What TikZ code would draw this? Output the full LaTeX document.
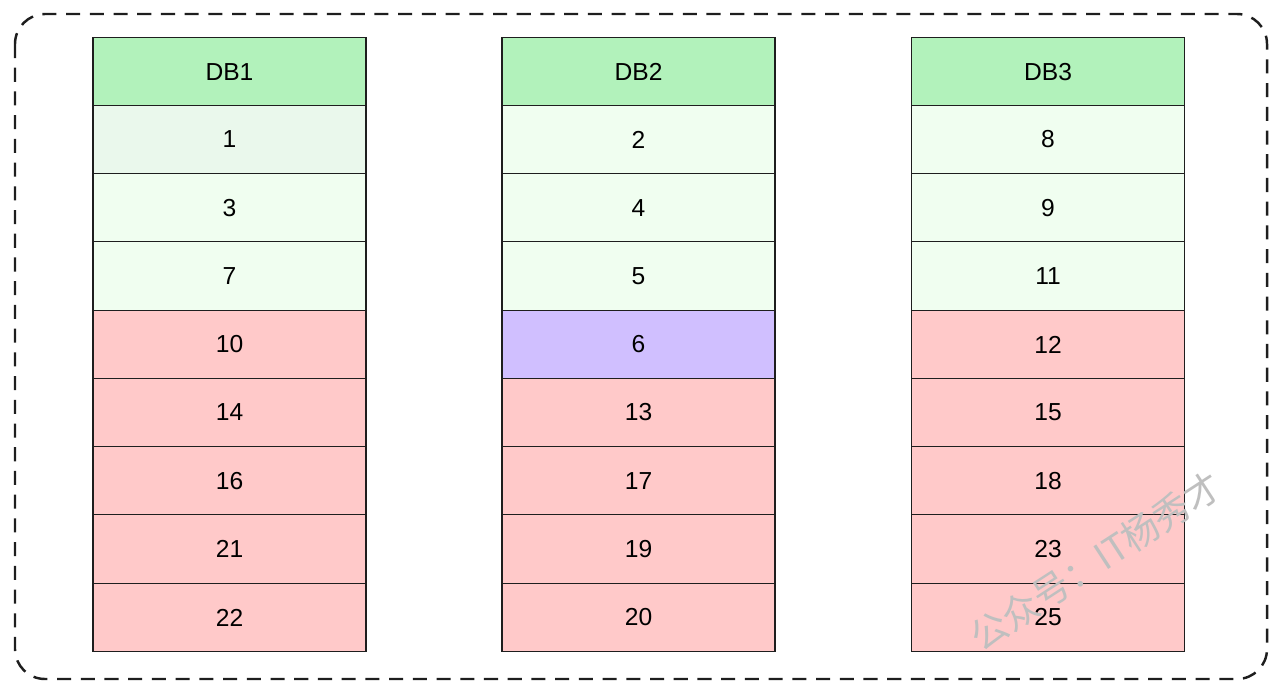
\documentclass[tikz,border=0pt]{standalone}
\usepackage{fontspec}
\setmainfont{Liberation Sans}
\newfontfamily\cjk{Noto Sans CJK SC}
\definecolor{headgreen}{HTML}{B2F2BB}
\definecolor{palegreen}{HTML}{EAF8EC}
\definecolor{rowgreen}{HTML}{F0FEF0}
\definecolor{rowred}{HTML}{FFC9C9}
\definecolor{rowviolet}{HTML}{D0BFFF}
\definecolor{inkdark}{HTML}{1E1E1E}
\begin{document}
\begin{tikzpicture}
        [x=0.02cm,y=-0.02cm,every node/.style={rectangle,draw=inkdark,line width=0.8pt,minimum width=5.46cm,minimum height=1.37cm,font=\fontsize{14}{16}\selectfont}]
        \useasboundingbox (0,0) rectangle (1280,693);
        \draw[inkdark, line width=1.4pt, dash pattern=on 8pt off 5.5pt, rounded corners=0.6cm] (15,14) rectangle (1267,679);

        % DB1
        \node[fill=headgreen] (H1) at   (229.5,72)      {DB1};
        \node[fill=palegreen] (A1) at   (229.5,139.5)   {1};
        \node[fill=rowgreen]  (A3) at   (229.5,208)     {3};
        \node[fill=rowgreen]  (A7) at   (229.5,276)     {7};
        \node[fill=rowred]    (A10) at  (229.5,344.5)   {10};
        \node[fill=rowred]    (A14) at  (229.5,412.5)   {14};
        \node[fill=rowred]    (A16) at  (229.5,481)     {16};
        \node[fill=rowred]    (A21) at  (229.5,549)     {21};
        \node[fill=rowred]    (A22) at  (229.5,617.5)   {22};

        % DB2
        \node[fill=headgreen] (H2) at   (638.5,72)      {DB2};
        \node[fill=rowgreen]  (B2) at   (638.5,139.5)   {2};
        \node[fill=rowgreen]  (B4) at   (638.5,208)     {4};
        \node[fill=rowgreen]  (B5) at   (638.5,276)     {5};
        \node[fill=rowviolet] (B6) at   (638.5,344.5)   {6};
        \node[fill=rowred]    (B13) at  (638.5,412.5)   {13};
        \node[fill=rowred]    (B17) at  (638.5,481)     {17};
        \node[fill=rowred]    (B19) at  (638.5,549)     {19};
        \node[fill=rowred]    (B20) at  (638.5,617.5)   {20};

        % DB3
        \node[fill=headgreen] (H3) at   (1048,72)       {DB3};
        \node[fill=rowgreen]  (C8) at   (1048,139.5)    {8};
        \node[fill=rowgreen]  (C9) at   (1048,208)      {9};
        \node[fill=rowgreen]  (C11) at  (1048,276)      {11};
        \node[fill=rowred]    (C12) at  (1048,344.5)    {12};
        \node[fill=rowred]    (C15) at  (1048,412.5)    {15};
        \node[fill=rowred]    (C18) at  (1048,481)      {18};
        \node[fill=rowred]    (C23) at  (1048,549)      {23};
        \node[fill=rowred]    (C25) at  (1048,617.5)    {25};

        % watermark
        \node[draw=none, minimum width=0pt, minimum height=0pt, rotate=33, text=black!25, font=\cjk\fontsize{21}{24}\selectfont] (WM) at (1096,561) {公众号：IT杨秀才};
    \end{tikzpicture}
\end{document}
